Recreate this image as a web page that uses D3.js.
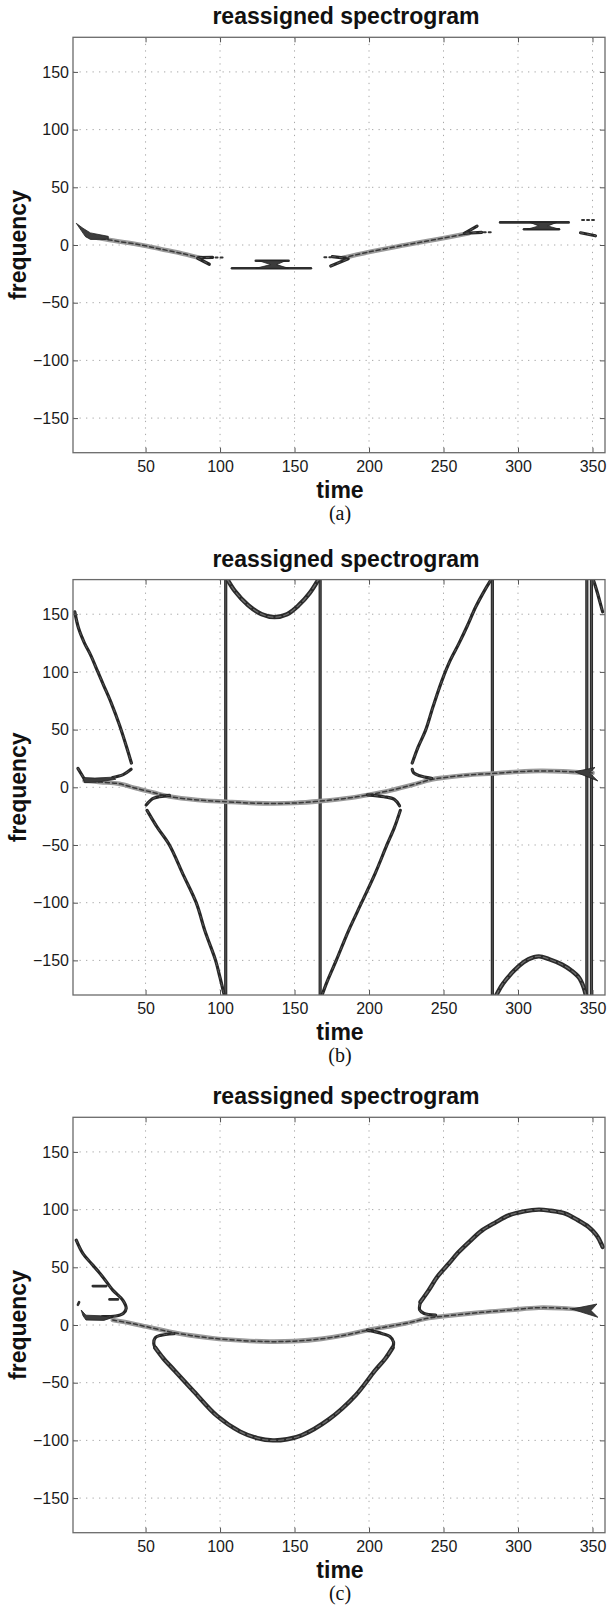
<!DOCTYPE html>
<html>
<head>
<meta charset="utf-8">
<script src="https://cdn.jsdelivr.net/npm/d3@7"></script>
<style>
  body { margin: 0; background: #fff; }
  svg { display: block; }
</style>
</head>
<body>
<svg id="chart" width="607" height="1607"></svg>
<script>
// axes
const timeDomain = [1.3, 358.4];
const freqDomain = [-180, 180];
const timeTicks = [50, 100, 150, 200, 250, 300, 350];
const freqTicks = [-150, -100, -50, 0, 50, 100, 150];
const panelNames = ["(a)", "(b)", "(c)"];
const titleText = "reassigned spectrogram";

// ---- panel (a): ridges, [time, frequency] ----
const aBandLeft = [[11, 8], [18, 6], [30, 3.5], [47, 0], [60, -3.5], [75, -7.5], [88, -11.5]];
const aForkLeftUp = [[86, -11], [95, -10.7]];
const aForkLeftDown = [[85, -11.5], [92.8, -16.7]];
const aDotsLeft = [[97, -10.9], [102, -10.9]];
const aBarLow = [[108, -20.2], [161, -20.2]];
const aBarHigh = [[124, -13.6], [146, -13.6]];
const aDotsMid = [[170, -10.7], [175, -10.7]];
const aForkMidUp = [[175.4, -10], [184, -11.3]];
const aForkMidDown = [[174.3, -18.2], [186, -12]];
const aBandRight = [[182, -11.3], [200, -6], [224.5, 0], [245, 4.8], [267, 10.1]];
const aForkRightUp = [[264, 10], [272.5, 16.4]];
const aForkRightDown = [[265, 10.2], [275.6, 11]];
const aDotsRight = [[277, 11], [282, 11]];
const aBarTop = [[288, 19.6], [334, 19.6]];
const aBarBottom = [[304, 13.6], [327.5, 13.6]];
const aDotsEnd = [[343, 21.6], [351, 21.6]];
const aTail = [[342, 10.6], [352, 8]];
const aBlobLeft = [[3.5, 18.8], [8, 14.5], [13, 10.5], [25, 7.5], [25, 5], [13, 4.8], [9.5, 7.5]];
const aBlobMid = [[126, -13.6], [144, -13.6], [138, -17], [146, -20.2], [124, -20.2], [134, -17]];
const aBlobRight = [[308, 19.6], [326, 19.6], [320, 16.5], [328, 13.6], [306, 13.6], [314, 16.5]];

// ---- panel (b) ----
const bMain = [[9, 5.7], [20, 4.5], [32.5, 3], [43.7, -0.9], [55, -4.5], [66, -8], [85, -11],
  [104, -12.5], [120, -13.6], [136, -14], [150, -13.6], [167, -12], [185, -9.5], [199, -6.6],
  [215, -2.5], [230, 2.4], [242, 6.8], [251, 8.5], [265, 10.5], [283, 12], [300, 13.5],
  [315, 14.2], [330, 13.8], [345, 12.6], [350, 12.5]];
const bForkStart = [[4.6, 16.4], [9, 7]];
const bHookA = [[28, 8.5], [35, 11], [40.3, 15.6]];
const bHookB = [[66, -7], [58, -8.5], [54.8, -9.8], [50.4, -15.3]];
const bHookC = [[199, -6.6], [210, -8.2], [217, -10.5], [220.5, -16]];
const bHookD = [[242, 7.8], [234, 10], [230, 12.5], [229, 15.6]];
const bBranch1 = [[2.5, 152], [5, 138], [9, 125], [13, 115], [18, 100], [22, 88], [27, 73],
  [32.5, 54], [37, 36], [40.5, 21]];
const bBranch2 = [[51, -20], [58, -35], [66, -50], [75, -75], [84, -100], [90, -125],
  [97, -150], [100, -165], [102.8, -180]];
const bArcTop = [[105, 180], [110, 170], [118.7, 158], [128, 150], [136.5, 147.5], [145, 150],
  [153, 158], [160, 168], [166, 180]];
const bBranch3 = [[168.5, -180], [172, -168], [178, -150], [186, -125], [195, -100],
  [204, -75], [212, -50], [217, -35], [221, -20]];
const bBranch4 = [[229, 21], [233, 35], [238, 49.5], [243, 70], [249, 92.7], [254.5, 110],
  [260.3, 124.5], [266, 140], [271.5, 156], [276, 167], [281, 178], [282, 180]];
const bArcBottom = [[285.5, -180], [290, -170], [300.5, -155], [307, -149], [314, -146.5],
  [321, -149], [329.5, -153.6], [336, -159], [341, -165], [344, -173], [345.5, -180]];
const bBranch5 = [[350.5, 180], [352.5, 172], [354.5, 163], [356.8, 152]];
const bVerticals = [103.8, 167.2, 282.8, 346.2, 349.3];
const bBlobLeft = [[8, 8.5], [16, 8], [28, 8.8], [30, 7], [18, 4.5], [9, 4]];
const bBlobRight = [[338, 13.5], [351.7, 17.2], [348, 12.5], [353.6, 5.5]];

// ---- panel (c) ----
const cMain = [[28, 4.3], [40, 1.5], [50.4, -1.4], [66, -5.8], [80, -9], [95, -11.5],
  [115, -13.5], [133, -14.4], [150, -14], [168, -12], [185, -8.5], [199, -4.5], [212, -1.5],
  [225, 1.5], [240, 6], [250, 7.6], [276, 11], [295, 13], [314, 15], [330, 14.5], [345, 13]];
const cBranchLeft = [[3.5, 73.5], [7.9, 62], [14.6, 51.9], [21.3, 41.7], [28, 30.2],
  [34.7, 21.6], [37, 14.4], [35, 10], [30, 7.8], [21, 7.2]];
const cSpike1 = [[14.6, 33.7], [23.6, 33.7]];
const cSpike2 = [[25.8, 22.2], [31.4, 22.2]];
const cSpeck = [[4.6, 17.5], [5.4, 19.8]];
const cLoopLeft = [[69, -7.6], [60, -9], [56.5, -11], [55.5, -16], [56.5, -19.7]];
const cArcBottom = [[56.5, -19.7], [62, -29], [69.4, -39.4], [82.4, -57.6], [98, -78.8],
  [113.5, -92.4], [125, -98], [135.5, -100], [145, -99], [154.9, -95.5], [173, -81.8],
  [191.2, -60.6], [204.1, -39.4], [211, -29], [215.8, -19.7]];
const cLoopRight = [[199, -4.5], [209, -7.5], [214, -10], [216.5, -15], [215.8, -19.7]];
const cLoopUpper = [[244.7, 8.6], [237, 10], [234, 13], [234.6, 20.1]];
const cArcTop = [[234.6, 20.1], [240, 30], [246, 42], [253.6, 53.3], [260, 63], [268, 73],
  [275.9, 82], [285, 89], [293.8, 95], [304, 98.5], [314, 100], [322, 99], [331.8, 96.5],
  [340, 91], [347.4, 85], [352, 79], [354.1, 75], [356.8, 67.7]];
const cBlobLeft = [[6.8, 13], [10, 8.5], [20, 8], [28, 6.5], [22, 4], [10, 4.3], [8, 8]];
const cBlobRight = [[336, 13.8], [353, 18.2], [349, 12.5], [353.6, 6.7]];

const panels = [
  {
    ridges: [
      [aBandLeft, "band"], [aBandRight, "band"],
      [aForkLeftUp, "dark"], [aForkLeftDown, "dark"], [aForkMidUp, "dark"], [aForkMidDown, "dark"],
      [aForkRightUp, "dark"], [aForkRightDown, "dark"],
      [aBarLow, "bar"], [aBarHigh, "bar"], [aBarTop, "bar"], [aBarBottom, "bar"],
      [aDotsLeft, "dots"], [aDotsMid, "dots"], [aDotsRight, "dots"], [aDotsEnd, "dots"], [aTail, "dark"]
    ],
    blobs: [aBlobLeft, aBlobMid, aBlobRight],
    verticals: []
  },
  {
    ridges: [
      [bMain, "band"], [bForkStart, "dark"], [bHookA, "dark"], [bHookB, "dark"],
      [bHookC, "dark"], [bHookD, "dark"],
      [bBranch1, "dark"], [bBranch2, "dark"], [bArcTop, "wide"], [bBranch3, "dark"],
      [bBranch4, "dark"], [bArcBottom, "wide"], [bBranch5, "dark"]
    ],
    blobs: [bBlobLeft, bBlobRight],
    verticals: bVerticals
  },
  {
    ridges: [
      [cMain, "band"], [cBranchLeft, "dark"], [cSpike1, "bar"], [cSpike2, "bar"], [cSpeck, "bar"],
      [cLoopLeft, "dark"], [cArcBottom, "wide"], [cLoopRight, "dark"], [cLoopUpper, "dark"],
      [cArcTop, "wide"]
    ],
    blobs: [cBlobLeft, cBlobRight],
    verticals: []
  }
];

const styles = {
  dark: [{ stroke: "#272727", w: 3.2 }, { stroke: "#5e5e5e", w: 0.9, dash: "3 4" }],
  wide: [{ stroke: "#2b2b2b", w: 4.4 }, { stroke: "#6c6c6c", w: 1.3, dash: "5 3" }],
  band: [{ stroke: "#9a9a9a", w: 4.6 }, { stroke: "#3a3a3a", w: 1.5, dash: "4 3" }],
  bar: [{ stroke: "#2e2e2e", w: 2.6 }],
  dots: [{ stroke: "#333", w: 2, dash: "2 3" }]
};

const left = 73, right = 605, plotH = 415.4;
const tops = [37.3, 579.6, 1117.3];

const svg = d3.select("#chart");
const x = d3.scaleLinear().domain(timeDomain).range([left, right]);
const font = "'Liberation Sans', Arial, Helvetica, sans-serif";

panels.forEach((p, i) => {
  const top = tops[i];
  const bottom = top + plotH;
  const y = d3.scaleLinear().domain(freqDomain).range([bottom, top]);
  const g = svg.append("g");

  const clipId = `clip-${i}`;
  g.append("clipPath").attr("id", clipId)
    .append("rect")
    .attr("x", left).attr("y", top)
    .attr("width", right - left).attr("height", plotH);

  // grid
  const grid = g.append("g")
    .attr("stroke", "#a8a8a8")
    .attr("stroke-width", 1)
    .attr("stroke-dasharray", "1.3 5.2");
  grid.selectAll(".gx").data(timeTicks).join("line")
    .attr("x1", (d) => x(d)).attr("x2", (d) => x(d))
    .attr("y1", top).attr("y2", bottom);
  grid.selectAll(".gy").data(freqTicks).join("line")
    .attr("y1", (d) => y(d)).attr("y2", (d) => y(d))
    .attr("x1", left).attr("x2", right);

  // ridges
  const plot = g.append("g").attr("clip-path", `url(#${clipId})`);
  const line = d3.line()
    .x((d) => x(d[0]))
    .y((d) => y(d[1]))
    .curve(d3.curveCatmullRom.alpha(0.5));

  p.verticals.forEach((t) => {
    plot.append("line")
      .attr("x1", x(t)).attr("x2", x(t)).attr("y1", top).attr("y2", bottom)
      .attr("stroke", "#2a2a2a").attr("stroke-width", 3.2);
    plot.append("line")
      .attr("x1", x(t)).attr("x2", x(t)).attr("y1", top).attr("y2", bottom)
      .attr("stroke", "#5a5a5a").attr("stroke-width", 0.9);
  });

  p.ridges.forEach(([pts, kind]) => {
    styles[kind].forEach((s) => {
      plot.append("path")
        .attr("d", line(pts))
        .attr("fill", "none")
        .attr("stroke", s.stroke)
        .attr("stroke-width", s.w)
        .attr("stroke-linecap", "round")
        .attr("stroke-linejoin", "round")
        .attr("stroke-dasharray", s.dash || null);
    });
  });

  plot.selectAll(".blob").data(p.blobs).join("path")
    .attr("d", (d) => d3.line().x((q) => x(q[0])).y((q) => y(q[1]))(d) + "Z")
    .attr("fill", "#3c3c3c")
    .attr("stroke", "#222")
    .attr("stroke-width", 0.8);

  // axes with inward ticks
  const ax = [
    g.append("g").attr("transform", `translate(0,${bottom})`)
      .call(d3.axisBottom(x).tickValues(timeTicks).tickSizeInner(-5).tickSizeOuter(0).tickPadding(8)),
    g.append("g").attr("transform", `translate(0,${top})`)
      .call(d3.axisTop(x).tickValues(timeTicks).tickSizeInner(-5).tickSizeOuter(0).tickFormat("")),
    g.append("g").attr("transform", `translate(${left},0)`)
      .call(d3.axisLeft(y).tickValues(freqTicks).tickSizeInner(-5).tickSizeOuter(0).tickPadding(4)),
    g.append("g").attr("transform", `translate(${right},0)`)
      .call(d3.axisRight(y).tickValues(freqTicks).tickSizeInner(-5).tickSizeOuter(0).tickFormat(""))
  ];
  ax.forEach((a) => {
    a.select(".domain").remove();
    a.selectAll("line").attr("stroke", "#555");
    a.selectAll("text")
      .attr("fill", "#1a1a1a")
      .style("font-family", font)
      .style("font-size", "16px");
  });

  g.append("rect")
    .attr("x", left).attr("y", top)
    .attr("width", right - left).attr("height", plotH)
    .attr("fill", "none")
    .attr("stroke", "#6a6a6a")
    .attr("stroke-width", 1.3);

  // titles
  g.append("text")
    .attr("x", 346).attr("y", top - 13)
    .attr("text-anchor", "middle")
    .style("font-family", font)
    .style("font-weight", "bold")
    .style("font-size", "23px")
    .attr("fill", "#111")
    .text(titleText);

  g.append("text")
    .attr("transform", `translate(26,${(top + bottom) / 2}) rotate(-90)`)
    .attr("text-anchor", "middle")
    .style("font-family", font)
    .style("font-weight", "bold")
    .style("font-size", "23px")
    .attr("fill", "#111")
    .text("frequency");

  g.append("text")
    .attr("x", 340).attr("y", bottom + 45)
    .attr("text-anchor", "middle")
    .style("font-family", font)
    .style("font-weight", "bold")
    .style("font-size", "23px")
    .attr("fill", "#111")
    .text("time");

  g.append("text")
    .attr("x", 340).attr("y", bottom + 67)
    .attr("text-anchor", "middle")
    .style("font-family", "'Liberation Serif', 'Times New Roman', serif")
    .style("font-size", "20px")
    .attr("fill", "#111")
    .text(panelNames[i]);
});
</script>
</body>
</html>
